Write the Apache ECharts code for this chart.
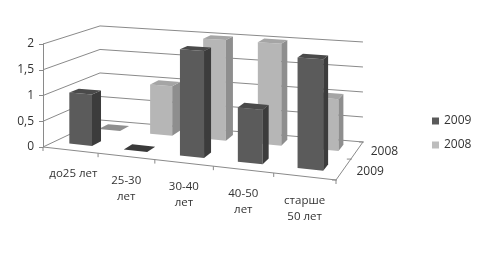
<!DOCTYPE html>
<html><head><meta charset="utf-8">
<script src="https://cdn.jsdelivr.net/npm/echarts@6/dist/echarts.min.js"></script>
<style>html,body{margin:0;padding:0;background:#fff}#c{width:480px;height:261px}</style>
</head><body><div id="c"></div>
<script>
// ---- data ----
const categories = ['до25 лет', '25-30\nлет', '30-40\nлет', '40-50\nлет', 'старше\n50 лет'];
const seriesNames = ['2009', '2008'];
const values2009 = [1, 0, 2, 1, 2];
const values2008 = [0, 1, 2, 2, 1];
const yTicks = [0, 0.5, 1, 1.5, 2];
const yTickLabels = ['0', '0,5', '1', '1,5', '2'];

// ---- projection geometry (perspective-like floor, relative to grid) ----
const FONT = '"Open Sans", "Noto Sans", sans-serif';
const G = { K: 0.08, FR: [1, 0.1126], BL: [0.1945, -0.0922], BR: [1.092, -0.0171], S10: 1.117, S01: 0.913, S11: 0.971 };
const ROWS = { '2009': [0.19, 0.36], '2008': [0.72, 0.89] };
const HALF = 0.21;
const N = categories.length;
const LINE = '#8a8a8a';

function projector(api) {
  const o = api.coord([0, 0]);
  const e = api.coord([N, 0]);
  const W = e[0] - o[0];
  return function (xv, w, v) {
    const px = api.coord([xv, 0])[0];
    let u = (px - o[0]) / W;
    u = u / (1 + G.K * (1 - u));
    const fx = u * G.FR[0], fy = u * G.FR[1];
    const bx = G.BL[0] + u * (G.BR[0] - G.BL[0]);
    const by = G.BL[1] + u * (G.BR[1] - G.BL[1]);
    const x = o[0] + W * ((1 - w) * fx + w * bx);
    const yb = o[1] + W * ((1 - w) * fy + w * by);
    const s = (1 - u) * (1 - w) + u * (1 - w) * G.S10 + u * w * G.S11 + (1 - u) * w * G.S01;
    const vpx = o[1] - api.coord([0, v])[1];
    return [x, yb - vpx * s];
  };
}
function poly(points, fill) {
  return { type: 'polygon', shape: { points }, style: { fill, stroke: null } };
}
function line(points, color) {
  return { type: 'polyline', shape: { points }, style: { stroke: color || LINE, lineWidth: 1, fill: null } };
}
function text(x, y, str, align, valign, size) {
  return { type: 'text', x, y, style: { text: str, fill: '#333', font: size + 'px ' + FONT,
    fontSize: size, fontFamily: FONT, align, textAlign: align, verticalAlign: valign, textVerticalAlign: valign, lineHeight: 16 } };
}

function barSeries(name, values, colors) {
  return {
    name, type: 'custom', coordinateSystem: 'cartesian2d', silent: true,
    itemStyle: { color: colors.legend },
    data: values.map((v, i) => [i, v]),
    encode: { x: 0, y: 1 },
    renderItem(params, api) {
      const P = projector(api);
      const i = api.value(0), v = api.value(1);
      const [w0, w1] = ROWS[name];
      const xa = i + 0.5 - HALF, xb = i + 0.5 + HALF;
      const ch = [];
      if (v > 0) {
        ch.push(poly([P(xa, w0, 0), P(xb, w0, 0), P(xb, w0, v), P(xa, w0, v)], colors.front));
        ch.push(poly([P(xb, w0, 0), P(xb, w1, 0), P(xb, w1, v), P(xb, w0, v)], colors.side));
      }
      ch.push(poly([P(xa, w0, v), P(xb, w0, v), P(xb, w1, v), P(xa, w1, v)], v > 0 ? colors.top : colors.flat));
      return { type: 'group', children: ch };
    }
  };
}

const frameSeries = {
  type: 'custom', coordinateSystem: 'cartesian2d', silent: true,
  data: yTicks.map(v => [0, v]),
  encode: { x: 0, y: 1 },
  renderItem(params, api) {
    const P = projector(api);
    const v = api.value(1);
    return line([P(0, 0, v), P(0, 1, v), P(N, 1, v)]);
  }
};

const axesSeries = {
  type: 'custom', coordinateSystem: 'cartesian2d', silent: true,
  data: [[0, 0]],
  encode: { x: 0, y: 1 },
  renderItem(params, api) {
    const P = projector(api);
    const ch = [];
    ch.push(line([P(0, 0, 0), P(N, 0, 0)]));
    for (let k = 0; k <= N; k++) {
      const p = P(k, 0, 0);
      ch.push(line([p, [p[0], p[1] + 4]]));
    }
    ch.push(line([P(N, 0, 0), P(N, 1, 0)]));
    [0, 0.55, 1].forEach(w => {
      const p = P(N, w, 0);
      ch.push(line([[p[0] - 4, p[1]], [p[0] + 1, p[1]]]));
    });
    categories.forEach((c, i) => {
      const p = P(i + 0.5, 0, 0);
      ch.push(text(p[0] + (i === 0 ? 3 : 0), p[1] + 16, c, 'center', 'top', 11.5));
    });
    seriesNames.forEach(n => {
      const r = ROWS[n];
      const p = P(N, (r[0] + r[1]) / 2, 0);
      ch.push(text(p[0] + 13, p[1] + 2, n, 'left', 'middle', 12));
    });
    return { type: 'group', children: ch };
  }
};

const chart = echarts.init(document.getElementById('c'), null, { renderer: 'canvas' });
chart.setOption({
  animation: false,
  backgroundColor: '#fff',
  grid: { left: 43, top: 44, width: 293, height: 103, containLabel: false },
  xAxis: { type: 'value', min: 0, max: N, show: false },
  yAxis: {
    type: 'value', min: 0, max: 2, interval: 0.5,
    axisLine: { show: true, lineStyle: { color: LINE } },
    axisTick: { show: true, length: 4, lineStyle: { color: LINE } },
    splitLine: { show: false },
    axisLabel: { margin: 9, fontSize: 12, color: '#333', fontFamily: FONT,
      formatter: v => yTickLabels[yTicks.indexOf(v)] }
  },
  legend: {
    data: ['2009', '2008'], orient: 'vertical', left: 427, top: 110,
    itemWidth: 7, itemHeight: 7, itemGap: 12, icon: 'rect',
    textStyle: { fontSize: 12, color: '#333', fontFamily: FONT }
  },
  series: [
    frameSeries,
    axesSeries,
    barSeries('2008', values2008, { legend: '#bdbdbd', front: '#b6b6b6', side: '#8e8e8e', top: '#a5a5a5', flat: '#8f8f8f' }),
    barSeries('2009', values2009, { legend: '#5a5a5a', front: '#5b5b5b', side: '#3c3c3c', top: '#4a4a4a', flat: '#3a3a3a' })
  ]
});
</script></body></html>
